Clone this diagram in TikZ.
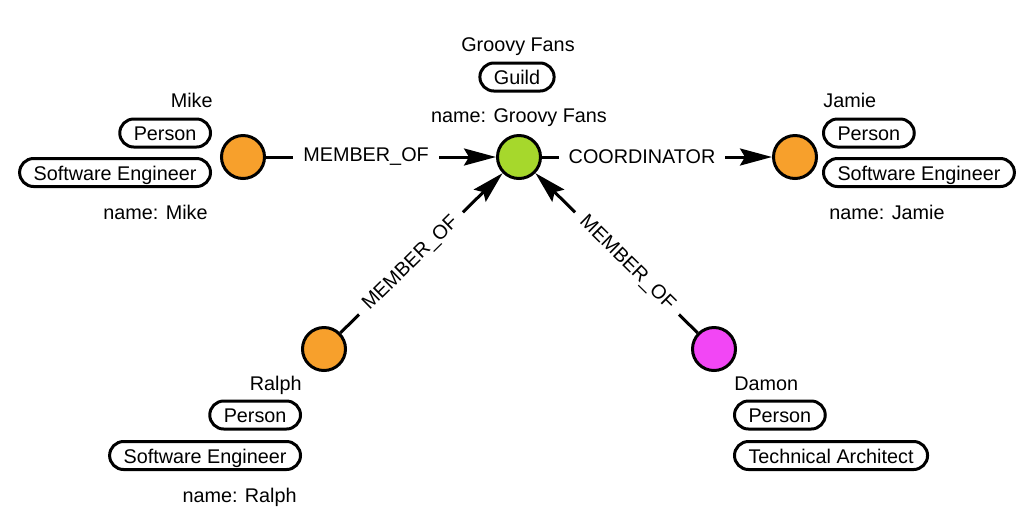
\documentclass[tikz,border=0pt]{standalone}
\usepackage{fontspec}
\setmainfont{Liberation Sans}
\usetikzlibrary{arrows.meta}
\definecolor{nodeorange}{RGB}{247,160,44}
\definecolor{nodegreen}{RGB}{166,216,44}
\definecolor{nodepink}{RGB}{242,70,245}

\begin{document}
\begin{tikzpicture}[x=0.5pt, y=-0.5pt, >={Stealth[length=16pt, width=8.5pt, inset=2.5pt]},
  font=\fontsize{9.9}{12}\selectfont,
  entity/.style={draw, circle, line width=1.5pt, minimum size=21.5pt, inner sep=0pt},
  tag/.style={draw, line width=1.5pt, rounded corners=7pt, minimum height=14pt,
    inner xsep=7pt, inner ysep=0pt, text height=8.4pt, text depth=0.5pt},
  caption/.style={inner sep=0pt},
  rel/.style={->, line width=1.5pt},
  lbl/.style={fill=white, inner xsep=5pt, inner ysep=2pt, pos=0.435}]

\useasboundingbox (0,0) rectangle (1034,516);

% ---------- entities ----------
\node[entity, fill=nodeorange] (mike)   at (243,157) {};
\node[entity, fill=nodegreen]  (groovy) at (519,157) {};
\node[entity, fill=nodeorange] (jamie)  at (795,157) {};
\node[entity, fill=nodeorange] (ralph)  at (324,349) {};
\node[entity, fill=nodepink]   (damon)  at (714,349) {};

% ---------- Mike ----------
\node[caption, anchor=base east] (mikename)   at (213,107)   {Mike};
\node[tag, anchor=east]          (mikeperson) at (212,133)   {Person};
\node[tag, anchor=east]          (mikerole)   at (212,172.5) {Software Engineer};
\node[caption, anchor=base east] (mikeprop)   at (208,219)   {name: Mike};

% ---------- Groovy Fans ----------
\node[caption, anchor=base] (groovyname)  at (518,51)  {Groovy Fans};
\node[tag]                  (groovyguild) at (517,77)  {Guild};
\node[caption, anchor=base] (groovyprop)  at (519,122) {name: Groovy Fans};

% ---------- Jamie ----------
\node[caption, anchor=base west] (jamiename)   at (823,107)   {Jamie};
\node[tag, anchor=west]          (jamieperson) at (822,133)   {Person};
\node[tag, anchor=west]          (jamierole)   at (822,172.5) {Software Engineer};
\node[caption, anchor=base west] (jamieprop)   at (829,219)   {name: Jamie};

% ---------- Ralph ----------
\node[caption, anchor=base east] (ralphname)   at (302,390)   {Ralph};
\node[tag, anchor=east]          (ralphperson) at (302,415)   {Person};
\node[tag, anchor=east]          (ralphrole)   at (302,455.5) {Software Engineer};
\node[caption, anchor=base east] (ralphprop)   at (297,502)   {name: Ralph};

% ---------- Damon ----------
\node[caption, anchor=base west] (damonname)   at (734,390)   {Damon};
\node[tag, anchor=west]          (damonperson) at (733,415)   {Person};
\node[tag, anchor=west]          (damonrole)   at (733,455.5) {Technical Architect};

% ---------- relationships ----------
\draw[rel] (mike) -- (groovy) node[lbl]{MEMBER\_OF};
\draw[rel] (groovy) -- (jamie) node[lbl]{COORDINATOR};
\draw[rel] (ralph) -- (groovy) node[lbl, sloped]{MEMBER\_OF};
\draw[rel] (damon) -- (groovy) node[lbl, sloped]{MEMBER\_OF};

\end{tikzpicture}
\end{document}
